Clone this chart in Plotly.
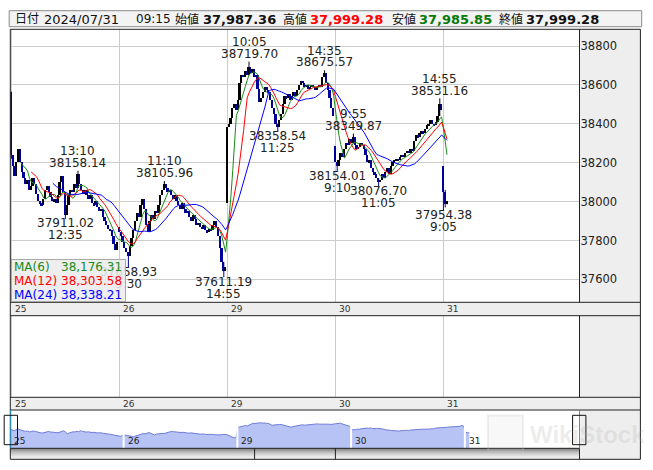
import numpy as np
import pandas as pd
import plotly.graph_objects as go

W, H = 653, 470

# ---------------- data ----------------
day_labels = ["25", "26", "29", "30", "31"]
bars_per_day = 60

day_open = [38560, 37870, 37990, 38283, 38180]

close_25 = [38240, 38180, 38130, 38200, 38270, 38200, 38150, 38120, 38090, 38110,
            38060, 38080, 38120, 38090, 38040, 38000, 37990, 37980, 38010, 38060,
            38080, 38050, 38020, 38000, 38010, 37990, 38030, 38100, 38130, 38050,
            37930, 37980, 38030, 38060, 38050, 38090, 38070, 38140, 38090, 38060,
            38040, 38060, 38030, 38010, 38030, 37990, 37980, 38000, 37970, 37950,
            37960, 37920, 37900, 37880, 37860, 37850, 37820, 37780, 37750, 37790]
close_26 = [37840, 37820, 37790, 37760, 37740, 37720, 37770, 37810, 37850, 37900,
            37940, 37920, 37980, 38010, 37960, 37880, 37840, 37900, 37930, 37910,
            37950, 37940, 37980, 38030, 38060, 38090, 38070, 38050, 38060, 38030,
            38010, 38030, 38000, 37980, 37960, 37990, 37960, 37940, 37950, 37920,
            37900, 37930, 37910, 37880, 37890, 37870, 37860, 37880, 37850, 37840,
            37860, 37850, 37880, 37900, 37870, 37820, 37760, 37690, 37640, 37660]
close_29 = [38380, 38400, 38430, 38480, 38500, 38470, 38520, 38610, 38650, 38640,
            38670, 38650, 38690, 38660, 38680, 38640, 38650, 38580, 38510, 38530,
            38560, 38590, 38570, 38560, 38520, 38480, 38450, 38400, 38380, 38420,
            38450, 38500, 38540, 38530, 38550, 38520, 38540, 38560, 38540, 38570,
            38600, 38620, 38610, 38590, 38600, 38580, 38590, 38600, 38590, 38570,
            38590, 38600, 38590, 38640, 38660, 38610, 38570, 38530, 38480, 38440]
close_30 = [38200, 38180, 38210, 38250, 38230, 38270, 38300, 38290, 38320, 38300,
            38330, 38290, 38270, 38280, 38300, 38290, 38270, 38240, 38200, 38210,
            38170, 38150, 38140, 38120, 38100, 38110, 38140, 38120, 38150, 38170,
            38140, 38180, 38200, 38210, 38220, 38210, 38230, 38240, 38230, 38250,
            38260, 38250, 38270, 38260, 38310, 38340, 38330, 38350, 38360, 38350,
            38370, 38390, 38400, 38420, 38400, 38390, 38410, 38440, 38500, 38470]
close_31 = [38050, 37987.36, 37999.28]

# labelled swing points (day index, bar index, time, value, kind)
ext_day = [0, 0, 1, 1, 1, 2, 2, 2, 3, 3, 3, 3, 4]
ext_bar = [30, 37, 5, 25, 58, 12, 28, 54, 1, 10, 24, 58, 0]
ext_time = ["12:35", "13:10", "9:30", "11:10", "14:55", "10:05", "11:25", "14:35",
            "9:10", "9:55", "11:05", "14:55", "9:05"]
ext_value = [37911.02, 38158.14, 37658.93, 38105.96, 37611.19, 38719.70, 38358.54,
             38675.57, 38154.01, 38349.87, 38076.70, 38531.16, 37954.38]
ext_kind = ["L", "H", "L", "H", "L", "H", "L", "H", "L", "H", "L", "H", "L"]

# other visible wicks (day, bar) -> (high, low)
extra_wicks = {(0, 0): (38565, 38220), (4, 1): (38060, 37970), (4, 2): (37999.28, 37985.85)}

ma_windows = [6, 12, 24]
ma_names = ["MA(6)", "MA(12)", "MA(24)"]
ma_values = ["38,176.31", "38,303.58", "38,338.21"]
ma_colors = ["#1a8a1a", "#ff0000", "#0000ff"]

y_ticks = [37600, 37800, 38000, 38200, 38400, 38600, 38800]

header_text = ["日付", "2024/07/31", "09:15", "始値", "37,987.36", "高値", "37,999.28",
               "安値", "37,985.85", "終値", "37,999.28"]

# ---------------- build OHLC ----------------
closes_by_day = [close_25, close_26, close_29, close_30, close_31]
g, o, h, l, c = [], [], [], [], []
for d, cl in enumerate(closes_by_day):
    prev = day_open[d]
    for i, v in enumerate(cl):
        g.append(d * bars_per_day + i)
        o.append(prev)
        c.append(v)
        h.append(max(prev, v))
        l.append(min(prev, v))
        prev = v
g = np.array(g, float); o = np.array(o, float); c = np.array(c, float)
h = np.array(h, float); l = np.array(l, float)
idx = {(int(gg) // bars_per_day, int(gg) % bars_per_day): k for k, gg in enumerate(g)}
for (d, i), (hi, lo) in extra_wicks.items():
    k = idx[(d, i)]
    h[k] = max(h[k], hi); l[k] = min(l[k], lo)
for d, i, v, kd in zip(ext_day, ext_bar, ext_value, ext_kind):
    k = idx[(d, i)]
    if kd == "H":
        h[k] = max(h[k], v)
    else:
        l[k] = min(l[k], v)

# ---------------- helpers ----------------
def X(px):
    return px / W

def Y(py):
    return 1 - py / H

FONT = "DejaVu Sans, Noto Sans CJK JP, sans-serif"
UP = "#000000"
DOWN = "#00009a"
GRID = "#cccccc"
PANEL = "#eeeeee"
BORDER = "#222222"

x_dom = [X(10.3), X(579.5)]
x_rng = [-0.6, 315.6]

fig = go.Figure()

# candle bodies
up = c >= o
body = np.maximum(np.abs(c - o), 4)
base = np.minimum(o, c)
fig.add_trace(go.Bar(x=g[up], y=body[up], base=base[up], width=0.95,
                     marker=dict(color=UP, line=dict(width=0)), hoverinfo="skip"))
fig.add_trace(go.Bar(x=g[~up], y=body[~up], base=base[~up], width=0.95,
                     marker=dict(color=DOWN, line=dict(width=0)), hoverinfo="skip"))

# wicks
for mask, col in [(up, UP), (~up, DOWN)]:
    wx, wy = [], []
    for k in np.where(mask)[0]:
        if h[k] > max(o[k], c[k]) + 1 or l[k] < min(o[k], c[k]) - 1:
            wx += [g[k], g[k], None]
            wy += [l[k], h[k], None]
    fig.add_trace(go.Scatter(x=wx, y=wy, mode="lines", line=dict(color=col, width=1),
                             hoverinfo="skip"))

# moving averages
cs = pd.Series(c)
for wnd, col in zip(ma_windows, ma_colors):
    ma = cs.rolling(wnd).mean()
    fig.add_trace(go.Scatter(x=g, y=ma, mode="lines", line=dict(color=col, width=1),
                             hoverinfo="skip", connectgaps=False))

# navigator area
fig.add_trace(go.Scatter(x=g, y=c, mode="lines", fill="tozeroy", fillcolor="#b7c2f5",
                         line=dict(color="#6f7cd4", width=1), xaxis="x3", yaxis="y3",
                         hoverinfo="skip"))
# dummy for lower panel
fig.add_trace(go.Scatter(x=[None], y=[None], xaxis="x2", yaxis="y2", hoverinfo="skip"))

day_ticks = [d * bars_per_day for d in range(len(day_labels))]

fig.update_layout(
    width=W, height=H, margin=dict(l=0, r=0, t=0, b=0),
    paper_bgcolor="white", plot_bgcolor="white",
    showlegend=False, barmode="overlay", bargap=0,
    font=dict(family=FONT, size=12, color="#222"),
    xaxis=dict(domain=x_dom, range=x_rng, showticklabels=False, tickvals=day_ticks,
               showgrid=True, gridcolor=GRID, gridwidth=1, zeroline=False, ticks="",
               anchor="y", fixedrange=True),
    yaxis=dict(domain=[Y(302.3), Y(29.3)], range=[37482, 38886], side="right",
               tickvals=y_ticks, ticktext=[str(t) for t in y_ticks], showgrid=True,
               gridcolor=GRID, zeroline=False, ticks="", anchor="x",
               tickfont=dict(size=11.5, color="#222", family=FONT)),
    xaxis2=dict(domain=x_dom, range=x_rng, showticklabels=False, tickvals=day_ticks,
                showgrid=True, gridcolor=GRID, zeroline=False, ticks="", anchor="y2"),
    yaxis2=dict(domain=[Y(397.3), Y(315.7)], range=[0, 1], showgrid=False,
                showticklabels=False, zeroline=False, anchor="x2"),
    xaxis3=dict(domain=x_dom, range=[-0.1, 300.2], showticklabels=False, showgrid=False,
                zeroline=False, ticks="", anchor="y3"),
    yaxis3=dict(domain=[Y(448.3), Y(410)], range=[36918, 39572], showgrid=False,
                showticklabels=False, zeroline=False, anchor="x3"),
)

shapes = []

def rect(x0, y0, x1, y1, fill=None, line=None, lw=1, layer="above"):
    shapes.append(dict(type="rect", xref="paper", yref="paper",
                       x0=X(x0), x1=X(x1), y0=Y(y1), y1=Y(y0),
                       fillcolor=fill if fill else "rgba(0,0,0,0)",
                       line=dict(color=line if line else "rgba(0,0,0,0)", width=lw if line else 0),
                       layer=layer))

def hline(x0, x1, y, col=BORDER, lw=1):
    shapes.append(dict(type="line", xref="paper", yref="paper", x0=X(x0), x1=X(x1),
                       y0=Y(y), y1=Y(y), line=dict(color=col, width=lw), layer="above"))

def vline(x, y0, y1, col=BORDER, lw=1):
    shapes.append(dict(type="line", xref="paper", yref="paper", x0=X(x), x1=X(x),
                       y0=Y(y0), y1=Y(y1), line=dict(color=col, width=lw), layer="above"))

# header box
rect(9.2, 10.7, 641.7, 26.7, fill="#f3f3f3", line="#8a8a8a")
# right grey panels
rect(579.5, 29.3, 640.4, 459.3, fill=PANEL, layer="below")
# date strips
rect(10.3, 302.3, 640.4, 315.7, fill=PANEL, layer="below")
rect(10.3, 397.3, 640.4, 410, fill=PANEL, layer="below")
# scrollbar gradient
grads = ["#6a6a6a", "#808080", "#959595", "#a8a8a8", "#b8b8b8", "#c6c6c6",
         "#d2d2d2", "#dcdcdc", "#e4e4e4", "#eaeaea", "#eeeeee"]
sb0, sb1 = 448.3, 459.3
step = (sb1 - sb0) / len(grads)
for k, gc in enumerate(grads):
    rect(10.3, sb0 + k * step, 579.5, sb0 + (k + 1) * step + 0.3, fill=gc)

# navigator day separators (white gaps)
for t in day_ticks[1:]:
    shapes.append(dict(type="line", xref="x3", yref="paper", x0=t - 0.3, x1=t - 0.3,
                       y0=Y(448.3), y1=Y(410), line=dict(color="white", width=2),
                       layer="above"))

# frame lines
hline(10.3, 640.4, 29.3)
hline(10.3, 640.4, 302.3)
hline(10.3, 640.4, 315.7)
hline(10.3, 640.4, 397.3)
hline(10.3, 640.4, 410)
hline(10.3, 579.5, 448.3)
hline(10.3, 640.4, 459.3)
vline(10.3, 29.3, 459.3)
vline(640.4, 29.3, 459.3)
vline(579.5, 29.3, 302.3)
vline(579.5, 315.7, 397.3)
vline(579.5, 448.3, 459.3)
vline(254.6, 448.3, 459.3)
vline(335.4, 448.3, 459.3)
# navigator cyan edges
vline(10.8, 410, 448.3, col="#22a6d8", lw=1)
vline(579.5, 410, 448.3, col="#22a6d8", lw=1)
# navigator handles
rect(4.2, 415.3, 17.5, 444.7, line="#111111")
rect(572.6, 415.3, 585.9, 444.7, line="#111111")
# watermark logo
shapes.append(dict(type="rect", xref="paper", yref="paper", x0=X(488), x1=X(523),
                   y0=Y(451.5), y1=Y(415.5), fillcolor="rgba(200,200,200,0.12)",
                   line=dict(color="rgba(190,190,190,0.25)", width=2), layer="above"))

fig.update_layout(shapes=shapes)

ann = []
# header texts
hdr_x = [12.5, 41.7, 133.5, 173, 201, 281, 308, 390, 417, 497, 524]
hdr_bold = [False, False, False, False, True, False, True, False, True, False, True]
hdr_size = [12, 13, 12, 12, 13, 12, 13, 12, 13, 12, 13]
hdr_col = ["#111", "#111", "#111", "#111", "#111", "#111", "#ff0000", "#111", "#0a7a0a", "#111", "#111"]
for t, xx, b, sz, col in zip(header_text, hdr_x, hdr_bold, hdr_size, hdr_col):
    ann.append(dict(xref="paper", yref="paper", x=X(xx), y=Y(19.0), xanchor="left",
                    yanchor="middle", showarrow=False,
                    text=f"<b>{t}</b>" if b else t,
                    font=dict(size=sz, color=col, family=FONT)))

# date labels in strips
for t, lab in zip(day_ticks, day_labels):
    for yy in (308.6, 403.6):
        ann.append(dict(xref="x", yref="paper", x=t, y=Y(yy), xanchor="left",
                        yanchor="middle", showarrow=False, xshift=1.5, text=lab,
                        font=dict(size=9, color="#333", family=FONT)))
    ann.append(dict(xref="x3", yref="paper", x=t, y=Y(440.7), xanchor="left",
                    yanchor="middle", showarrow=False, xshift=1.5, text=lab,
                    font=dict(size=9, color="#222", family=FONT)))

# swing labels
for d, i, tm, v, kd in zip(ext_day, ext_bar, ext_time, ext_value, ext_kind):
    gx = d * bars_per_day + i
    if kd == "H":
        lines = [(tm, 19.7), (f"{v:.2f}", 7.8)]
    else:
        lines = [(f"{v:.2f}", -4.5), (tm, -16.5)]
    for txt, sh in lines:
        ann.append(dict(xref="x", yref="y", x=gx, y=v, xanchor="center", yanchor="middle",
                        yshift=sh, showarrow=False, text=txt,
                        font=dict(size=12, color="#222", family=FONT)))

# legend box (drawn above labels)
ann.append(dict(xref="paper", yref="paper", x=X(68.0), y=Y(280.8), xanchor="center",
                yanchor="middle", showarrow=False, text=" ", width=112.6, height=41,
                bgcolor="rgba(236,236,236,0.88)", bordercolor="#a8a8a8", borderwidth=1,
                borderpad=0))
for k, (nm, val, col) in enumerate(zip(ma_names, ma_values, ma_colors)):
    yy = [266.7, 280.6, 294.6][k]
    ann.append(dict(xref="paper", yref="paper", x=X(12), y=Y(yy), xanchor="left",
                    yanchor="middle", showarrow=False, text=nm,
                    font=dict(size=12, color=col, family=FONT)))
    ann.append(dict(xref="paper", yref="paper", x=X(123.8), y=Y(yy), xanchor="right",
                    yanchor="middle", showarrow=False, text=val,
                    font=dict(size=12, color=col, family=FONT)))

# watermark text
ann.append(dict(xref="paper", yref="paper", x=X(528), y=Y(434), xanchor="left",
                yanchor="middle", showarrow=False, text="<b>WikiStock</b>",
                font=dict(size=24, color="rgba(170,170,170,0.22)",
                          family="Liberation Sans, Arial, sans-serif")))

fig.update_layout(annotations=ann)

fig.write_html("out.html", config={"displayModeBar": False},
               post_script="document.body.style.margin='0px';document.body.style.padding='0px';")
